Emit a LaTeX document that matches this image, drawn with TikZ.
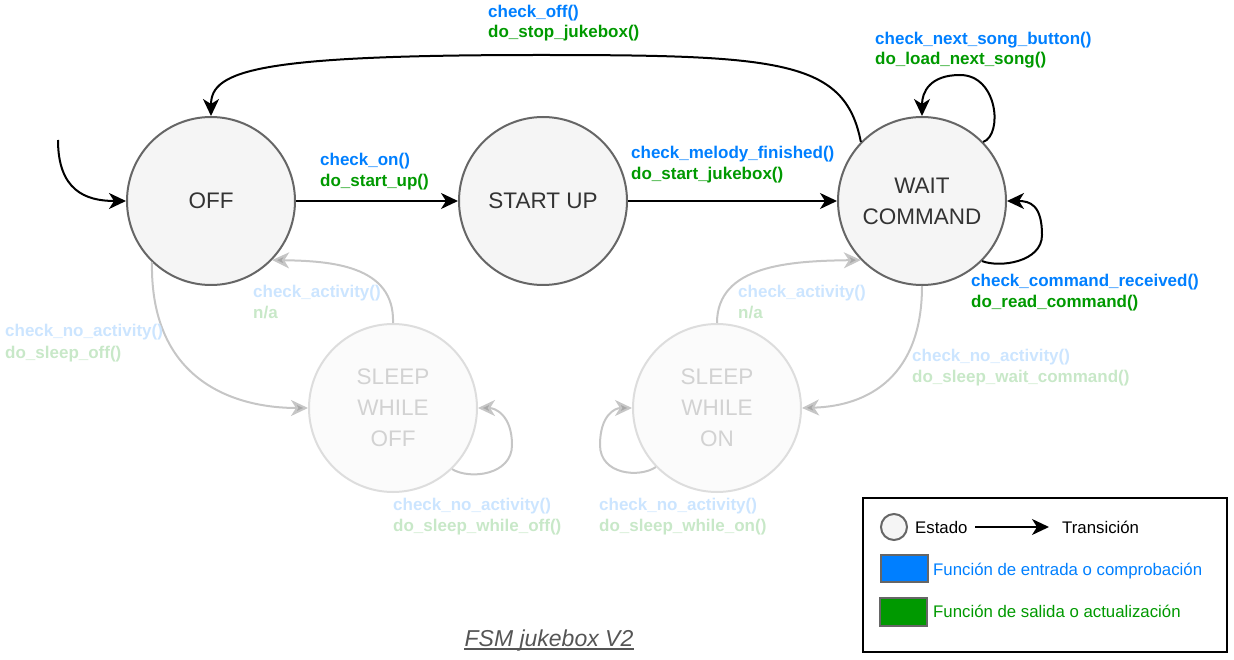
\documentclass[tikz,border=0pt]{standalone}
\usepackage{fontspec}
\setmainfont{Liberation Sans}
\usetikzlibrary{arrows.meta}
\definecolor{cblue}{HTML}{007FFF}
\definecolor{cgreen}{HTML}{009900}
\definecolor{fblue}{HTML}{CCE5FF}
\definecolor{fgreen}{HTML}{C8E8C8}
\definecolor{stfill}{HTML}{F5F5F5}
\definecolor{stline}{HTML}{666666}
\definecolor{ffill}{HTML}{FBFBFB}
\definecolor{fline}{HTML}{DDDDDD}
\definecolor{ftext}{HTML}{D2D2D2}
\definecolor{farrow}{HTML}{C6C6C6}
\definecolor{titlec}{HTML}{555555}
\tikzset{
  state/.style={circle, minimum size=168pt, inner sep=0pt, line width=2pt, draw=stline, fill=stfill, text=black!80,
    font=\fontsize{22.5}{31}\selectfont, align=center},
  fstate/.style={state, draw=fline, fill=ffill, text=ftext},
  arr/.style={line width=2pt, -{Stealth[length=17pt,width=16pt,inset=5pt]}},
  farr/.style={line width=2pt, draw=farrow, -{Stealth[length=17pt,width=16pt,inset=5pt,fill=farrow!85!black]}},
  lbl/.style={anchor=base west, inner sep=0pt, font=\fontsize{17}{21}\selectfont\bfseries},
  leg/.style={anchor=base west, inner sep=0pt, font=\fontsize{16.8}{20}\selectfont},
}
\begin{document}
\begin{tikzpicture}[x=1pt,y=-1pt]
\useasboundingbox (0,0) rectangle (1234,660);

% states
\node[state] (off) at (211,201) {OFF};
\node[state] (start) at (543,201) {START UP};
\node[state] (wait) at (922,201) {WAIT\\COMMAND};
\node[fstate] (soff) at (393,408) {SLEEP\\WHILE\\OFF};
\node[fstate] (son) at (717,408) {SLEEP\\WHILE\\ON};

% faded transitions
\draw[farr] (off.-134) .. controls (150,385) and (240,408) .. (soff.west);
\draw[farr] (soff.north) .. controls (395,265) and (330,261) .. (off.-44);
\draw[farr] (soff.-46) .. controls (470,480) and (512,475) .. (512,445) .. controls (512,415) and (495,408) .. (soff.east);
\draw[farr] (wait.south) .. controls (922,375) and (870,406) .. (son.east);
\draw[farr] (son.north) .. controls (717,265) and (790,261) .. (wait.-136);
\draw[farr] (son.-136) .. controls (640,478) and (600,475) .. (600,445) .. controls (600,415) and (615,408) .. (son.west);

% active transitions
\coordinate (init) at (58,140);
\draw[arr] (init) .. controls (58,190) and (85,201) .. (off.west);
\draw[arr] (off.east) -- (start.west);
\draw[arr] (start.east) -- (wait.west);
\draw[arr] (wait.136) .. controls (845,60) and (780,55) .. (540,55) .. controls (260,55) and (211,70) .. (off.north);
\draw[arr] (wait.44) .. controls (1003,135) and (998,75) .. (960,75) .. controls (930,75) and (922,92) .. (wait.north);
\draw[arr] (wait.-45) .. controls (1000,268) and (1042,262) .. (1042,235) .. controls (1042,205) and (1030,201) .. (wait.east);

% labels
\node[lbl, text=cblue] (l1a) at (488,18) {check\_off()};
\node[lbl, text=cgreen] (l1b) at (488,38) {do\_stop\_jukebox()};
\node[lbl, text=cblue] (l2a) at (875,45) {check\_next\_song\_button()};
\node[lbl, text=cgreen] (l2b) at (875,65) {do\_load\_next\_song()};
\node[lbl, text=cblue] (l3a) at (320,166) {check\_on()};
\node[lbl, text=cgreen] (l3b) at (320,187) {do\_start\_up()};
\node[lbl, text=cblue] (l4a) at (631,159) {check\_melody\_finished()};
\node[lbl, text=cgreen] (l4b) at (631,180) {do\_start\_jukebox()};
\node[lbl, text=cblue] (l5a) at (971,287) {check\_command\_received()};
\node[lbl, text=cgreen] (l5b) at (971,308) {do\_read\_command()};
\node[lbl, text=fblue] (l6a) at (253,298) {check\_activity()};
\node[lbl, text=fgreen] (l6b) at (253,319) {n/a};
\node[lbl, text=fblue] (l7a) at (5,337) {check\_no\_activity()};
\node[lbl, text=fgreen] (l7b) at (5,358) {do\_sleep\_off()};
\node[lbl, text=fblue] (l8a) at (393,510) {check\_no\_activity()};
\node[lbl, text=fgreen] (l8b) at (393,531) {do\_sleep\_while\_off()};
\node[lbl, text=fblue] (l9a) at (738,298) {check\_activity()};
\node[lbl, text=fgreen] (l9b) at (738,319) {n/a};
\node[lbl, text=fblue] (l10a) at (912,361) {check\_no\_activity()};
\node[lbl, text=fgreen] (l10b) at (912,382) {do\_sleep\_wait\_command()};
\node[lbl, text=fblue] (l11a) at (599,510) {check\_no\_activity()};
\node[lbl, text=fgreen] (l11b) at (599,531) {do\_sleep\_while\_on()};

% legend
\draw[line width=2pt] (863,498) rectangle (1227,652);
\node[circle, minimum size=26pt, inner sep=0pt, line width=2pt, draw=stline, fill=stfill] (lcirc) at (894,527) {};
\node[leg] (lest) at (915,533) {Estado};
\coordinate (la1) at (975,527);
\coordinate (la2) at (1049,527);
\draw[arr] (la1) -- (la2);
\node[leg] (ltr) at (1062,533) {Transición};
\draw[line width=1.5pt, draw=stline, fill=cblue] (881,555) rectangle (928,582);
\node[leg, text=cblue] (lin) at (933,575) {Función de entrada o comprobación};
\draw[line width=1.5pt, draw=stline, fill=cgreen] (880,598) rectangle (927,626);
\node[leg, text=cgreen] (lout) at (933,617) {Función de salida o actualización};

% title
\node[inner sep=0pt, anchor=base, text=titlec, font=\fontsize{23}{26}\selectfont\itshape] (title) at (549,646) {FSM jukebox V2};
\draw[titlec, line width=1.5pt] ([yshift=-3pt]title.base west) -- ([yshift=-3pt]title.base east);
\end{tikzpicture}
\end{document}
